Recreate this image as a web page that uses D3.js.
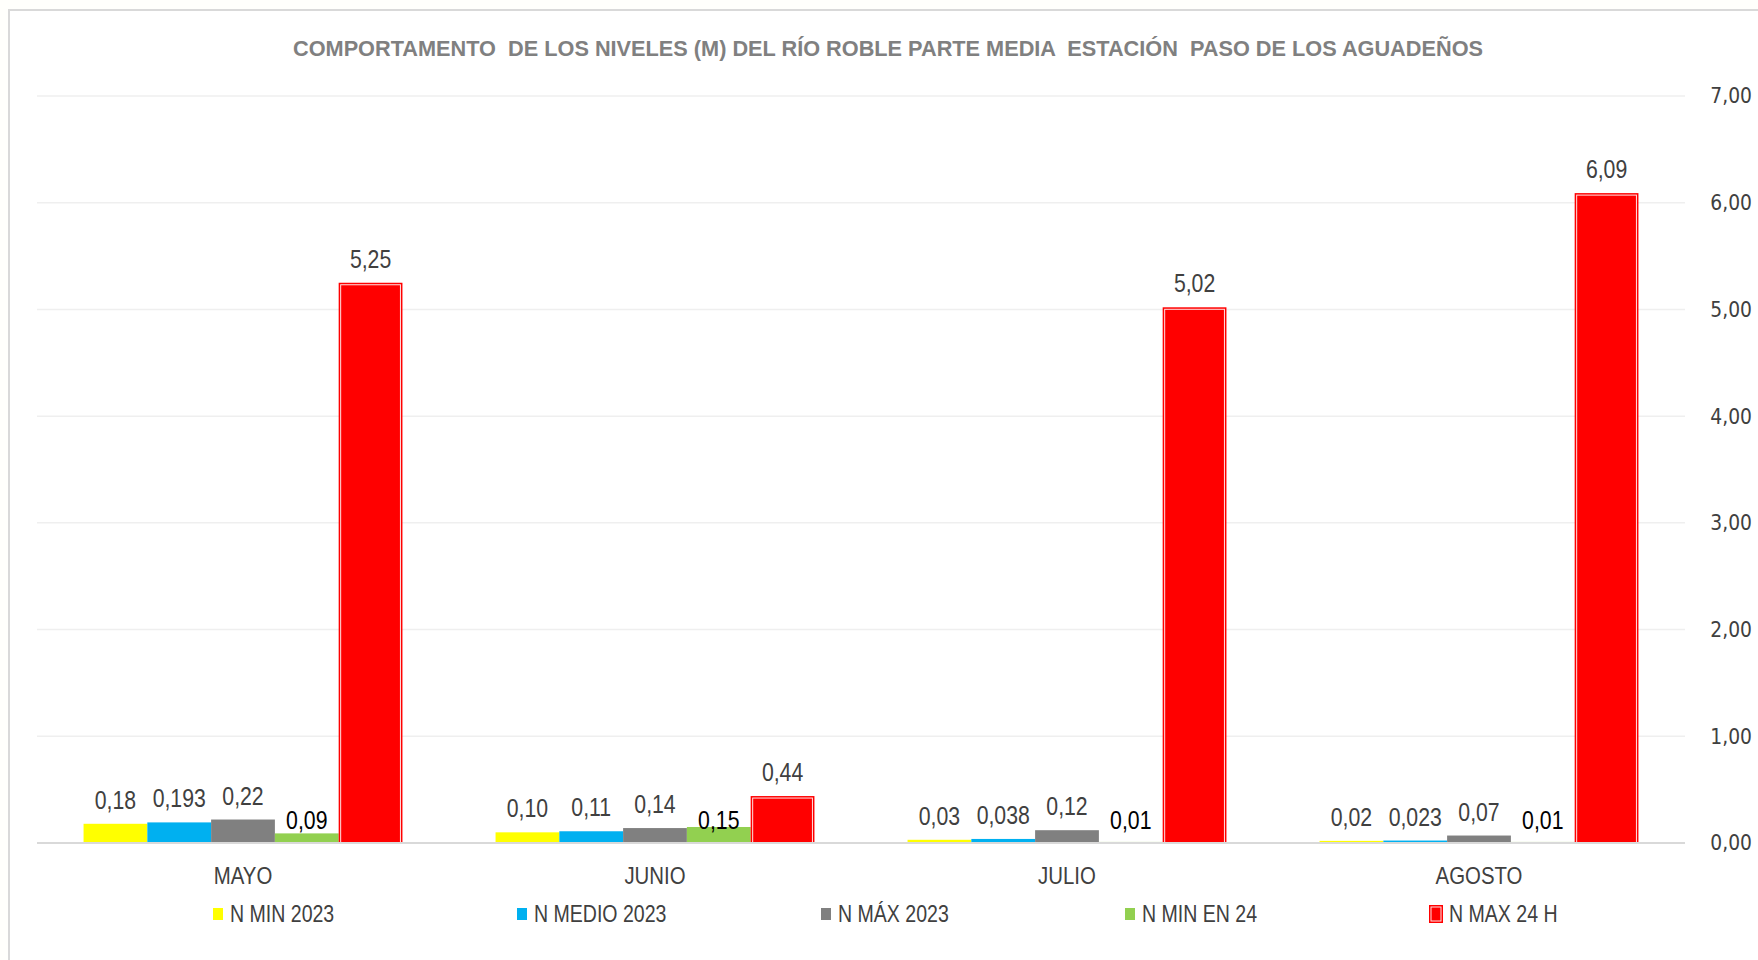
<!DOCTYPE html>
<html>
<head>
<meta charset="utf-8">
<script src="https://cdn.jsdelivr.net/npm/d3@7/dist/d3.min.js"></script>
<style>
  html, body { margin: 0; padding: 0; background: #fffffc; }
  svg { display: block; }
  text { white-space: pre; }
</style>
</head>
<body>
<svg id="chart" width="1758" height="960"></svg>
<script>
// Meses, series y valores de nivel (m)
const months = ["MAYO", "JUNIO", "JULIO", "AGOSTO"];
const seriesNames = ["N MIN 2023", "N MEDIO 2023", "N MÁX 2023", "N MIN EN 24", "N MAX 24 H"];
const seriesColors = ["#FFFF00", "#00B0F0", "#808080", "#92D050", "#FF0000"];
const nMin2023   = [0.18, 0.10, 0.03, 0.02];
const nMedio2023 = [0.193, 0.11, 0.038, 0.023];
const nMax2023   = [0.22, 0.14, 0.12, 0.07];
const nMinEn24   = [0.09, 0.15, 0.01, 0.01];
const nMax24h    = [5.25, 0.44, 5.02, 6.09];
const yTicks = [0, 1, 2, 3, 4, 5, 6, 7];
const title = "COMPORTAMENTO  DE LOS NIVELES (M) DEL RÍO ROBLE PARTE MEDIA  ESTACIÓN  PASO DE LOS AGUADEÑOS";

const seriesValues = [nMin2023, nMedio2023, nMax2023, nMinEn24, nMax24h];

const svg = d3.select("#chart");
const W = 1758, H = 960;
const plot = { left: 37, right: 1685, top: 96, bottom: 843 };
const sans = "'Liberation Sans', Arial, sans-serif";
const squeeze = 0.85; // horizontal condensing for the narrow label face

// chart area background and frame
svg.append("rect").attr("x", 9).attr("y", 10).attr("width", W).attr("height", H)
  .attr("fill", "#ffffff").attr("stroke", "#d9d9d9").attr("stroke-width", 2);

const y = d3.scaleLinear().domain([0, 7]).range([plot.bottom, plot.top]);
const x0 = d3.scaleBand().domain(months).range([plot.left, plot.right])
  .paddingInner(0.226).paddingOuter(0.113);
const x1 = d3.scaleBand().domain(seriesNames).range([0, x0.bandwidth()]).padding(0);

// gridlines
svg.append("g").selectAll("line").data(yTicks.filter(t => t > 0)).join("line")
  .attr("x1", plot.left).attr("x2", plot.right)
  .attr("y1", d => y(d)).attr("y2", d => y(d))
  .attr("stroke", "#efefef").attr("stroke-width", 1.5);

// right value axis
const fmtAxis = d => d3.format(".2f")(d).replace(".", ",");
const yAxis = d3.axisRight(y).tickValues(yTicks).tickFormat(fmtAxis).tickSize(0).tickPadding(0);
const axisG = svg.append("g").attr("transform", `translate(${plot.right + 67},0)`).call(yAxis);
axisG.select(".domain").remove();
axisG.selectAll("text")
  .attr("transform", "scale(0.87,1)")
  .attr("text-anchor", "end")
  .attr("font-family", "'DejaVu Sans', Verdana, sans-serif")
  .attr("font-size", 21.5)
  .attr("fill", "#404040");

// bars
const rows = [];
months.forEach((m, i) => {
  seriesNames.forEach((s, j) => {
    rows.push({ month: m, series: s, idx: j, value: seriesValues[j][i] });
  });
});

const barG = svg.append("g");
barG.selectAll("rect.bar").data(rows).join("rect")
  .attr("class", "bar")
  .attr("x", d => x0(d.month) + x1(d.series))
  .attr("y", d => y(d.value))
  .attr("width", x1.bandwidth())
  .attr("height", d => y(0) - y(d.value))
  .attr("fill", d => seriesColors[d.idx]);

// inner white rule on the 24 h maximum bars
barG.selectAll("rect.inner").data(rows.filter(d => d.idx === 4)).join("rect")
  .attr("class", "inner")
  .attr("x", d => x0(d.month) + x1(d.series) + 2)
  .attr("y", d => y(d.value) + 2)
  .attr("width", x1.bandwidth() - 4)
  .attr("height", d => y(0) - y(d.value) - 2)
  .attr("fill", "none").attr("stroke", "#ffe2e2").attr("stroke-width", 1);

// baseline
svg.append("line").attr("x1", plot.left).attr("x2", plot.right)
  .attr("y1", y(0)).attr("y2", y(0))
  .attr("stroke", "#d9d9d9").attr("stroke-width", 2);

// condensed text helper
function narrowText(sel, px, py) {
  return sel.attr("transform", (d, i) => `translate(${px(d, i)},${py(d, i)}) scale(${squeeze},1)`)
    .attr("font-family", sans);
}

// data labels
const fmtLabel = v => {
  const dec = String(v).split(".")[1] || "";
  return v.toFixed(Math.max(2, dec.length)).replace(".", ",");
};
narrowText(
  svg.append("g").selectAll("text").data(rows).join("text"),
  d => x0(d.month) + x1(d.series) + x1.bandwidth() / 2,
  d => d.idx === 3 ? y(0) - 14 : y(d.value) - 15)
  .attr("text-anchor", "middle")
  .attr("font-size", 25)
  .attr("fill", d => d.idx === 3 ? "#000000" : "#404040")
  .text(d => fmtLabel(d.value));

// category labels
narrowText(
  svg.append("g").selectAll("text").data(months).join("text"),
  d => x0(d) + x0.bandwidth() / 2,
  () => 884)
  .attr("text-anchor", "middle")
  .attr("font-size", 24)
  .attr("fill", "#404040")
  .text(d => d);

// title
svg.append("text")
  .attr("x", 888).attr("y", 56)
  .attr("text-anchor", "middle")
  .attr("font-family", sans)
  .attr("font-weight", "bold")
  .attr("font-size", 22)
  .attr("fill", "#808080")
  .attr("textLength", 1190)
  .attr("lengthAdjust", "spacingAndGlyphs")
  .text(title);

// legend
const lx = d3.scalePoint().domain(seriesNames).range([213, 1429]);
const leg = svg.append("g").selectAll("g").data(seriesNames).join("g")
  .attr("transform", d => `translate(${lx(d)},914)`);
leg.append("rect")
  .attr("x", 0)
  .attr("y", (d, i) => i === 4 ? -9 : -6)
  .attr("width", (d, i) => i === 4 ? 14 : 10)
  .attr("height", (d, i) => i === 4 ? 18 : 12)
  .attr("fill", (d, i) => seriesColors[i]);
leg.filter((d, i) => i === 4).append("rect")
  .attr("x", 2).attr("y", -7).attr("width", 10).attr("height", 14)
  .attr("fill", "none").attr("stroke", "#ffe2e2").attr("stroke-width", 1);
narrowText(
  leg.append("text"),
  (d, i) => seriesNames.indexOf(d) === 4 ? 20 : 17,
  () => 8)
  .attr("font-size", 23)
  .attr("fill", "#404040")
  .text(d => d);
</script>
</body>
</html>
